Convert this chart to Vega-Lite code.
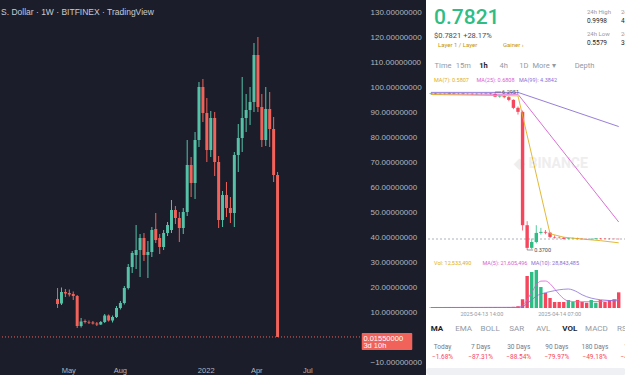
{
  "$schema": "https://vega.github.io/schema/vega-lite/v6.json",
  "padding": 0,
  "background": "#1b1e2a",
  "config": {"view": {"stroke": null}, "font": "Roboto", "axis": {"grid": false, "domain": false, "ticks": false, "labelOverlap": false}, "axisY": {"labelOverlap": false}},
  "datasets": {
    "weekly": [
      {"week":"2021-04-12","open":15.2,"high":19.6,"low":11.6,"close":13.2},
      {"week":"2021-04-19","open":13.4,"high":19.8,"low":12.8,"close":18.0},
      {"week":"2021-04-26","open":18.0,"high":19.2,"low":16.0,"close":17.4},
      {"week":"2021-05-03","open":17.6,"high":19.0,"low":16.2,"close":17.0},
      {"week":"2021-05-10","open":17.2,"high":18.2,"low":14.8,"close":16.4},
      {"week":"2021-05-17","open":16.4,"high":16.8,"low":3.6,"close":4.4},
      {"week":"2021-05-24","open":4.4,"high":7.6,"low":3.8,"close":6.2},
      {"week":"2021-05-31","open":6.4,"high":7.0,"low":5.4,"close":6.0},
      {"week":"2021-06-07","open":6.0,"high":6.6,"low":5.2,"close":5.8},
      {"week":"2021-06-14","open":5.8,"high":6.4,"low":5.0,"close":5.4},
      {"week":"2021-06-21","open":5.4,"high":6.0,"low":4.4,"close":5.0},
      {"week":"2021-06-28","open":5.0,"high":6.4,"low":4.8,"close":6.0},
      {"week":"2021-07-05","open":6.0,"high":9.2,"low":5.6,"close":8.6},
      {"week":"2021-07-12","open":8.6,"high":9.0,"low":6.2,"close":6.6},
      {"week":"2021-07-19","open":6.6,"high":8.6,"low":5.8,"close":8.0},
      {"week":"2021-07-26","open":8.0,"high":12.4,"low":7.6,"close":11.6},
      {"week":"2021-08-02","open":11.6,"high":14.4,"low":11.0,"close":13.6},
      {"week":"2021-08-09","open":13.6,"high":20.4,"low":13.0,"close":19.6},
      {"week":"2021-08-16","open":19.6,"high":29.2,"low":19.0,"close":28.0},
      {"week":"2021-08-23","open":28.0,"high":34.4,"low":25.6,"close":33.6},
      {"week":"2021-08-30","open":32.8,"high":44.8,"low":27.2,"close":34.8},
      {"week":"2021-09-06","open":34.8,"high":41.2,"low":24.0,"close":39.6},
      {"week":"2021-09-13","open":39.6,"high":41.6,"low":30.4,"close":32.8},
      {"week":"2021-09-20","open":32.8,"high":38.4,"low":23.6,"close":34.0},
      {"week":"2021-09-27","open":34.0,"high":44.0,"low":32.0,"close":42.8},
      {"week":"2021-10-04","open":43.2,"high":49.6,"low":37.6,"close":38.8},
      {"week":"2021-10-11","open":39.6,"high":41.2,"low":33.2,"close":36.0},
      {"week":"2021-10-18","open":36.0,"high":42.8,"low":34.8,"close":41.6},
      {"week":"2021-10-25","open":41.6,"high":46.0,"low":40.4,"close":44.8},
      {"week":"2021-11-01","open":42.8,"high":54.8,"low":41.6,"close":50.8},
      {"week":"2021-11-08","open":50.8,"high":52.4,"low":45.2,"close":47.6},
      {"week":"2021-11-15","open":47.6,"high":50.0,"low":38.0,"close":43.6},
      {"week":"2021-11-22","open":43.6,"high":51.6,"low":41.2,"close":50.0},
      {"week":"2021-11-29","open":50.0,"high":78.8,"low":48.4,"close":68.8},
      {"week":"2021-12-06","open":68.8,"high":72.0,"low":56.0,"close":61.6},
      {"week":"2021-12-13","open":61.6,"high":82.0,"low":55.2,"close":78.8},
      {"week":"2021-12-20","open":78.8,"high":102.0,"low":76.0,"close":100.0},
      {"week":"2021-12-27","open":100.0,"high":103.2,"low":86.0,"close":89.6},
      {"week":"2022-01-03","open":89.6,"high":95.6,"low":70.0,"close":74.8},
      {"week":"2022-01-10","open":74.8,"high":90.4,"low":72.0,"close":87.6},
      {"week":"2022-01-17","open":87.6,"high":90.0,"low":64.4,"close":70.0},
      {"week":"2022-01-24","open":70.0,"high":72.4,"low":43.6,"close":46.8},
      {"week":"2022-01-31","open":46.8,"high":58.4,"low":44.0,"close":56.8},
      {"week":"2022-02-07","open":56.8,"high":62.0,"low":48.0,"close":51.6},
      {"week":"2022-02-14","open":51.6,"high":56.0,"low":45.6,"close":49.6},
      {"week":"2022-02-21","open":49.6,"high":74.0,"low":44.0,"close":72.8},
      {"week":"2022-02-28","open":72.8,"high":85.2,"low":66.0,"close":79.6},
      {"week":"2022-03-07","open":79.6,"high":104.0,"low":74.0,"close":87.6},
      {"week":"2022-03-14","open":87.6,"high":97.2,"low":82.0,"close":90.8},
      {"week":"2022-03-21","open":90.8,"high":100.0,"low":84.8,"close":94.0},
      {"week":"2022-03-28","open":94.0,"high":117.6,"low":90.0,"close":112.8},
      {"week":"2022-04-04","open":112.8,"high":120.0,"low":90.0,"close":92.0},
      {"week":"2022-04-11","open":92.0,"high":97.2,"low":76.0,"close":78.8},
      {"week":"2022-04-18","open":78.8,"high":100.0,"low":76.4,"close":91.2},
      {"week":"2022-04-25","open":91.2,"high":98.0,"low":76.0,"close":83.2},
      {"week":"2022-05-02","open":83.2,"high":88.0,"low":62.0,"close":64.8},
      {"week":"2022-05-09","open":64.8,"high":66.0,"low":0.0155,"close":0.0155}
    ],
    "lastPrice": [{"price": 0.0155, "countdown": "3d 10h"}],
    "hourly": [
      {"hour":"2025-04-13T03:00:00Z","open":6.22,"high":6.27,"low":6.20,"close":6.24,"volume":420000},
      {"hour":"2025-04-13T04:00:00Z","open":6.24,"high":6.26,"low":6.19,"close":6.21,"volume":380000},
      {"hour":"2025-04-13T05:00:00Z","open":6.21,"high":6.25,"low":6.19,"close":6.23,"volume":350000},
      {"hour":"2025-04-13T06:00:00Z","open":6.23,"high":6.25,"low":6.20,"close":6.22,"volume":300000},
      {"hour":"2025-04-13T07:00:00Z","open":6.22,"high":6.28,"low":6.21,"close":6.25,"volume":450000},
      {"hour":"2025-04-13T08:00:00Z","open":6.25,"high":6.27,"low":6.21,"close":6.23,"volume":400000},
      {"hour":"2025-04-13T09:00:00Z","open":6.23,"high":6.26,"low":6.21,"close":6.24,"volume":330000},
      {"hour":"2025-04-13T10:00:00Z","open":6.24,"high":6.26,"low":6.20,"close":6.22,"volume":310000},
      {"hour":"2025-04-13T11:00:00Z","open":6.22,"high":6.25,"low":6.20,"close":6.23,"volume":290000},
      {"hour":"2025-04-13T12:00:00Z","open":6.23,"high":6.25,"low":6.19,"close":6.21,"volume":360000},
      {"hour":"2025-04-13T13:00:00Z","open":6.21,"high":6.26,"low":6.19,"close":6.23,"volume":420000},
      {"hour":"2025-04-13T14:00:00Z","open":6.23,"high":6.25,"low":6.20,"close":6.22,"volume":380000},
      {"hour":"2025-04-13T15:00:00Z","open":6.22,"high":6.27,"low":6.21,"close":6.24,"volume":400000},
      {"hour":"2025-04-13T16:00:00Z","open":6.24,"high":6.26,"low":6.20,"close":6.22,"volume":450000},
      {"hour":"2025-04-13T17:00:00Z","open":6.22,"high":6.2951,"low":6.10,"close":6.12,"volume":620000},
      {"hour":"2025-04-13T18:00:00Z","open":6.12,"high":6.18,"low":6.08,"close":6.14,"volume":500000},
      {"hour":"2025-04-13T19:00:00Z","open":6.14,"high":6.17,"low":6.06,"close":6.10,"volume":480000},
      {"hour":"2025-04-13T20:00:00Z","open":6.10,"high":6.14,"low":5.95,"close":6.00,"volume":650000},
      {"hour":"2025-04-13T21:00:00Z","open":6.00,"high":6.02,"low":5.65,"close":5.70,"volume":900000},
      {"hour":"2025-04-13T22:00:00Z","open":5.70,"high":5.75,"low":5.45,"close":5.55,"volume":1400000},
      {"hour":"2025-04-13T23:00:00Z","open":5.55,"high":5.60,"low":1.10,"close":1.30,"volume":7000000},
      {"hour":"2025-04-14T00:00:00Z","open":1.30,"high":1.45,"low":0.37,"close":0.45,"volume":25600000},
      {"hour":"2025-04-14T01:00:00Z","open":0.45,"high":0.80,"low":0.40,"close":0.67,"volume":28800000},
      {"hour":"2025-04-14T02:00:00Z","open":0.67,"high":1.30,"low":0.62,"close":1.01,"volume":30400000},
      {"hour":"2025-04-14T03:00:00Z","open":1.01,"high":1.20,"low":0.95,"close":1.05,"volume":16800000},
      {"hour":"2025-04-14T04:00:00Z","open":1.05,"high":1.12,"low":0.96,"close":1.02,"volume":12000000},
      {"hour":"2025-04-14T05:00:00Z","open":1.02,"high":1.04,"low":0.82,"close":0.86,"volume":8000000},
      {"hour":"2025-04-14T06:00:00Z","open":0.86,"high":0.92,"low":0.80,"close":0.84,"volume":4800000},
      {"hour":"2025-04-14T07:00:00Z","open":0.84,"high":0.88,"low":0.80,"close":0.83,"volume":4800000},
      {"hour":"2025-04-14T08:00:00Z","open":0.83,"high":0.86,"low":0.77,"close":0.79,"volume":4800000},
      {"hour":"2025-04-14T09:00:00Z","open":0.79,"high":0.83,"low":0.77,"close":0.81,"volume":6400000},
      {"hour":"2025-04-14T10:00:00Z","open":0.81,"high":0.84,"low":0.79,"close":0.82,"volume":4800000},
      {"hour":"2025-04-14T11:00:00Z","open":0.82,"high":0.83,"low":0.77,"close":0.79,"volume":6400000},
      {"hour":"2025-04-14T12:00:00Z","open":0.79,"high":0.81,"low":0.76,"close":0.78,"volume":4800000},
      {"hour":"2025-04-14T13:00:00Z","open":0.78,"high":0.80,"low":0.75,"close":0.77,"volume":4200000},
      {"hour":"2025-04-14T14:00:00Z","open":0.77,"high":0.80,"low":0.75,"close":0.79,"volume":6400000},
      {"hour":"2025-04-14T15:00:00Z","open":0.79,"high":0.82,"low":0.77,"close":0.81,"volume":4200000},
      {"hour":"2025-04-14T16:00:00Z","open":0.81,"high":0.82,"low":0.78,"close":0.80,"volume":6400000},
      {"hour":"2025-04-14T17:00:00Z","open":0.80,"high":0.82,"low":0.78,"close":0.795,"volume":4800000},
      {"hour":"2025-04-14T18:00:00Z","open":0.795,"high":0.81,"low":0.77,"close":0.79,"volume":6400000},
      {"hour":"2025-04-14T19:00:00Z","open":0.79,"high":0.80,"low":0.77,"close":0.785,"volume":7000000},
      {"hour":"2025-04-14T20:00:00Z","open":0.785,"high":0.80,"low":0.76,"close":0.7821,"volume":12533490}
    ],
    "priceMA": [
      {"hour":"2025-04-13T03:00:00Z","ma":"MA(99)","value":6.28},
      {"hour":"2025-04-13T22:00:00Z","ma":"MA(99)","value":6.28},
      {"hour":"2025-04-14T20:00:00Z","ma":"MA(99)","value":5.0},
      {"hour":"2025-04-13T03:00:00Z","ma":"MA(25)","value":6.22},
      {"hour":"2025-04-13T22:00:00Z","ma":"MA(25)","value":6.21},
      {"hour":"2025-04-14T20:00:00Z","ma":"MA(25)","value":1.42},
      {"hour":"2025-04-13T03:00:00Z","ma":"MA(7)","value":6.2},
      {"hour":"2025-04-13T22:00:00Z","ma":"MA(7)","value":6.15},
      {"hour":"2025-04-14T05:00:00Z","ma":"MA(7)","value":0.98},
      {"hour":"2025-04-14T08:00:00Z","ma":"MA(7)","value":0.85},
      {"hour":"2025-04-14T12:00:00Z","ma":"MA(7)","value":0.78},
      {"hour":"2025-04-14T16:00:00Z","ma":"MA(7)","value":0.72},
      {"hour":"2025-04-14T20:00:00Z","ma":"MA(7)","value":0.64}
    ],
    "volMA": [
      {"hour":"2025-04-13T03:00:00Z","series":"MA(5)","value":400000},
      {"hour":"2025-04-13T22:00:00Z","series":"MA(5)","value":500000},
      {"hour":"2025-04-13T23:00:00Z","series":"MA(5)","value":1700000},
      {"hour":"2025-04-14T00:00:00Z","series":"MA(5)","value":6700000},
      {"hour":"2025-04-14T01:00:00Z","series":"MA(5)","value":12500000},
      {"hour":"2025-04-14T02:00:00Z","series":"MA(5)","value":18500000},
      {"hour":"2025-04-14T03:00:00Z","series":"MA(5)","value":21500000},
      {"hour":"2025-04-14T04:00:00Z","series":"MA(5)","value":21600000},
      {"hour":"2025-04-14T05:00:00Z","series":"MA(5)","value":19500000},
      {"hour":"2025-04-14T06:00:00Z","series":"MA(5)","value":15200000},
      {"hour":"2025-04-14T07:00:00Z","series":"MA(5)","value":11000000},
      {"hour":"2025-04-14T08:00:00Z","series":"MA(5)","value":7400000},
      {"hour":"2025-04-14T09:00:00Z","series":"MA(5)","value":5600000},
      {"hour":"2025-04-14T11:00:00Z","series":"MA(5)","value":5000000},
      {"hour":"2025-04-14T16:00:00Z","series":"MA(5)","value":5300000},
      {"hour":"2025-04-14T20:00:00Z","series":"MA(5)","value":6800000},
      {"hour":"2025-04-13T03:00:00Z","series":"MA(10)","value":400000},
      {"hour":"2025-04-13T22:00:00Z","series":"MA(10)","value":450000},
      {"hour":"2025-04-13T23:00:00Z","series":"MA(10)","value":1100000},
      {"hour":"2025-04-14T00:00:00Z","series":"MA(10)","value":3600000},
      {"hour":"2025-04-14T01:00:00Z","series":"MA(10)","value":6500000},
      {"hour":"2025-04-14T02:00:00Z","series":"MA(10)","value":9500000},
      {"hour":"2025-04-14T03:00:00Z","series":"MA(10)","value":11200000},
      {"hour":"2025-04-14T04:00:00Z","series":"MA(10)","value":12300000},
      {"hour":"2025-04-14T05:00:00Z","series":"MA(10)","value":13100000},
      {"hour":"2025-04-14T06:00:00Z","series":"MA(10)","value":13900000},
      {"hour":"2025-04-14T07:00:00Z","series":"MA(10)","value":14600000},
      {"hour":"2025-04-14T08:00:00Z","series":"MA(10)","value":15000000},
      {"hour":"2025-04-14T09:00:00Z","series":"MA(10)","value":15200000},
      {"hour":"2025-04-14T10:00:00Z","series":"MA(10)","value":14400000},
      {"hour":"2025-04-14T11:00:00Z","series":"MA(10)","value":12700000},
      {"hour":"2025-04-14T12:00:00Z","series":"MA(10)","value":10600000},
      {"hour":"2025-04-14T14:00:00Z","series":"MA(10)","value":7900000},
      {"hour":"2025-04-14T16:00:00Z","series":"MA(10)","value":6600000},
      {"hour":"2025-04-14T20:00:00Z","series":"MA(10)","value":5700000}
    ],
    "ticker": [{"symbol": "OMUSDT", "last": 0.7821}],
    "extremes": [
      {"hour":"2025-04-13T17:00:00Z","price":6.2951},
      {"hour":"2025-04-14T00:00:00Z","price":0.37}
    ],
    "tags": [{"tag": "Layer 1 / Layer"}, {"tag": "Gainer ›"}],
    "stats": [{"stat": "24h High", "value": "0.9998"}, {"stat": "24h Low", "value": "0.5579"}],
    "volStats": [{"stat": "24h Vol(OM)", "value": "41.29M"}, {"stat": "24h Vol(USDT)", "value": "38.02M"}],
    "tabs": [{"tab":"Time"},{"tab":"15m"},{"tab":"1h"},{"tab":"4h"},{"tab":"1D"},{"tab":"More ▾"},{"tab":"Depth"}],
    "maLegend": [{"ma":"MA(7)","label":"MA(7): 0.5807"},{"ma":"MA(25)","label":"MA(25): 0.6808"},{"ma":"MA(99)","label":"MA(99): 4.3842"}],
    "volLegend": [{"series":"Vol","label":"Vol: 12,533,490"},{"series":"MA(5)","label":"MA(5): 21,605,496"},{"series":"MA(10)","label":"MA(10): 28,843,485"}],
    "indicators": [{"indicator":"MA"},{"indicator":"EMA"},{"indicator":"BOLL"},{"indicator":"SAR"},{"indicator":"AVL"},{"indicator":"VOL"},{"indicator":"MACD"},{"indicator":"RSI"}],
    "periods": [
      {"period":"Today","change":-0.0168},
      {"period":"7 Days","change":-0.8731},
      {"period":"30 Days","change":-0.8854},
      {"period":"90 Days","change":-0.7997},
      {"period":"180 Days","change":-0.4918},
      {"period":"1 Year","change":-0.4210}
    ]
  },
  "bounds": "flush",
  "spacing": 60,
  "hconcat": [
    {
      "width": 365,
      "height": 365,
      "view": {"fill": "#1b1e2a", "stroke": null},
      "title": {"text": "S. Dollar · 1W · BITFINEX · TradingView", "anchor": "start", "frame": "group", "orient": "top", "offset": -16, "fontSize": 8.5, "fontWeight": "normal", "color": "#c8cbd4", "font": "Liberation Sans"},
      "layer": [
        {
          "data": {"name": "weekly"},
          "mark": {"type": "rule", "strokeWidth": 1},
          "encoding": {
            "x": {"field": "week", "type": "temporal", "title": null,
                  "scale": {"type": "utc", "domain": [{"year":2021,"month":1,"date":10,"hours":4,"utc":true},{"year":2022,"month":10,"date":4,"hours":16,"utc":true}]},
                  "axis": {"values": [{"year":2021,"month":5,"date":1,"utc":true},{"year":2021,"month":8,"date":1,"utc":true},{"year":2022,"month":1,"date":1,"utc":true},{"year":2022,"month":4,"date":1,"utc":true},{"year":2022,"month":7,"date":1,"utc":true}],
                           "labelExpr": "utcFormat(datum.value, '%m') == '01' ? utcFormat(datum.value, '%Y') : utcFormat(datum.value, '%b')",
                           "labelFontSize": 7.5, "labelColor": "#b2b5be", "labelFont": "Liberation Sans", "labelPadding": 1, "labelFlush": false, "labelOverlap": false, "ticks": false, "domain": false, "grid": false}},
            "y": {"field": "low", "type": "quantitative", "title": null,
                  "scale": {"domain": [-11.2, 134.8], "nice": false, "zero": false},
                  "axis": {"orient": "right", "values": [-10,10,20,30,40,50,60,70,80,90,100,110,120,130],
                           "labelExpr": "format(datum.value, '.8f')", "labelAlign": "left", "labelBaseline": "middle", "labelPadding": 4,
                           "labelFontSize": 8, "labelColor": "#b2b5be", "labelFont": "Liberation Sans", "labelFlush": false, "labelOverlap": false,
                           "ticks": false, "domain": false, "grid": false}},
            "y2": {"field": "high"},
            "color": {"condition": {"test": "datum.close >= datum.open", "value": "#55c2a8"}, "value": "#f0625a"}
          }
        },
        {
          "data": {"name": "weekly"},
          "mark": {"type": "bar", "size": 3},
          "encoding": {
            "x": {"field": "week", "type": "temporal", "title": null, "scale": {"type": "utc", "domain": [{"year":2021,"month":1,"date":10,"hours":4,"utc":true},{"year":2022,"month":10,"date":4,"hours":16,"utc":true}]}},
            "y": {"field": "open", "type": "quantitative", "title": null, "scale": {"domain": [-11.2, 134.8], "nice": false, "zero": false}, "axis": {"orient": "right", "values": [-10,10,20,30,40,50,60,70,80,90,100,110,120,130], "labelOverlap": false}},
            "y2": {"field": "close"},
            "color": {"condition": {"test": "datum.close >= datum.open", "value": "#55c2a8"}, "value": "#f0625a"}
          }
        },
        {
          "data": {"name": "lastPrice"},
          "mark": {"type": "rule", "strokeDash": [1, 2], "color": "#f0625a", "strokeWidth": 1},
          "encoding": {"y": {"field": "price", "type": "quantitative", "title": null, "scale": {"domain": [-11.2, 134.8], "nice": false, "zero": false}, "axis": {"orient": "right", "values": [-10,10,20,30,40,50,60,70,80,90,100,110,120,130], "labelOverlap": false}}}
        },
        {
          "data": {"name": "lastPrice"},
          "mark": {"type": "rect", "color": "#f0625a", "yOffset": -4, "y2Offset": 13, "cornerRadius": 1},
          "encoding": {
            "x": {"datum": {"year":2022,"month":10,"date":6,"utc":true}, "type": "temporal"},
            "x2": {"datum": {"year":2023,"month":1,"date":4,"utc":true}},
            "y": {"field": "price", "type": "quantitative", "title": null, "scale": {"domain": [-11.2, 134.8], "nice": false, "zero": false}, "axis": {"orient": "right", "values": [-10,10,20,30,40,50,60,70,80,90,100,110,120,130], "labelOverlap": false}},
            "y2": {"field": "price"}
          }
        },
        {
          "data": {"name": "lastPrice"},
          "mark": {"type": "text", "align": "left", "baseline": "middle", "dy": 2, "fontSize": 7.5, "color": "#ffffff", "font": "Liberation Sans"},
          "encoding": {
            "x": {"datum": {"year":2022,"month":10,"date":9,"utc":true}, "type": "temporal"},
            "y": {"field": "price", "type": "quantitative", "title": null, "scale": {"domain": [-11.2, 134.8], "nice": false, "zero": false}, "axis": {"orient": "right", "values": [-10,10,20,30,40,50,60,70,80,90,100,110,120,130], "labelOverlap": false}},
            "text": {"field": "price", "type": "quantitative", "format": ".8f"}
          }
        },
        {
          "data": {"name": "lastPrice"},
          "mark": {"type": "text", "align": "left", "baseline": "middle", "dy": 9.5, "fontSize": 7.5, "color": "#ffffff", "font": "Liberation Sans"},
          "encoding": {
            "x": {"datum": {"year":2022,"month":10,"date":9,"utc":true}, "type": "temporal"},
            "y": {"field": "price", "type": "quantitative", "title": null, "scale": {"domain": [-11.2, 134.8], "nice": false, "zero": false}, "axis": {"orient": "right", "values": [-10,10,20,30,40,50,60,70,80,90,100,110,120,130], "labelOverlap": false}},
            "text": {"field": "countdown"}
          }
        }
      ]
    },
    {
      "bounds": "flush",
      "spacing": 0,
      "vconcat": [
        {
          "width": 200,
          "height": 58,
          "view": {"fill": "#ffffff", "stroke": null},
          "title": {"text": "0.7821", "subtitle": "$0.7821  +28.17%", "anchor": "start", "frame": "group", "orient": "top", "offset": -39, "dx": 8, "fontSize": 21, "fontWeight": 500, "color": "#2ebd85", "font": "Roboto", "subtitleFont": "Roboto", "subtitleFontSize": 7.5, "subtitleColor": "#474d57", "subtitlePadding": 4},
          "resolve": {"scale": {"x": "independent", "y": "independent"}},
          "layer": [
            {
              "data": {"name": "tags"},
              "mark": {"type": "text", "align": "left", "baseline": "middle", "dy": 16, "fontSize": 6, "color": "#c99400"},
              "encoding": {
                "x": {"field": "tag", "type": "nominal", "scale": {"type": "point", "domain": ["Layer 1 / Layer", "Gainer ›"], "range": [12, 77], "padding": 0}, "axis": null},
                "text": {"field": "tag"}
              }
            },
            {
              "data": {"name": "stats"},
              "mark": {"type": "text", "align": "left", "baseline": "middle", "dx": 61, "fontSize": 6, "color": "#929aa5"},
              "encoding": {
                "y": {"field": "stat", "type": "nominal", "scale": {"type": "point", "domain": ["24h High", "24h Low"], "range": [12, 34], "padding": 0}, "axis": null},
                "text": {"field": "stat"}
              }
            },
            {
              "data": {"name": "stats"},
              "mark": {"type": "text", "align": "left", "baseline": "middle", "dx": 61, "dy": 9, "fontSize": 6.5, "color": "#1e2329"},
              "encoding": {
                "y": {"field": "stat", "type": "nominal", "scale": {"type": "point", "domain": ["24h High", "24h Low"], "range": [12, 34], "padding": 0}, "axis": null},
                "text": {"field": "value"}
              }
            },
            {
              "data": {"name": "volStats"},
              "mark": {"type": "text", "align": "left", "baseline": "middle", "dx": 95, "fontSize": 6, "color": "#929aa5", "clip": true},
              "encoding": {
                "y": {"field": "stat", "type": "nominal", "scale": {"type": "point", "domain": ["24h Vol(OM)", "24h Vol(USDT)"], "range": [12, 34], "padding": 0}, "axis": null},
                "text": {"field": "stat"}
              }
            },
            {
              "data": {"name": "volStats"},
              "mark": {"type": "text", "align": "left", "baseline": "middle", "dx": 95, "dy": 9, "fontSize": 6.5, "color": "#1e2329", "clip": true},
              "encoding": {
                "y": {"field": "stat", "type": "nominal", "scale": {"type": "point", "domain": ["24h Vol(OM)", "24h Vol(USDT)"], "range": [12, 34], "padding": 0}, "axis": null},
                "text": {"field": "value"}
              }
            }
          ]
        },
        {
          "width": 200,
          "height": 16,
          "view": {"fill": "#ffffff", "stroke": null},
          "data": {"name": "tabs"},
          "layer": [
            {
              "transform": [{"filter": "datum.tab !== '1h'"}],
              "mark": {"type": "text", "baseline": "middle", "fontSize": 7.5, "color": "#929aa5"},
              "encoding": {
                "x": {"field": "tab", "type": "nominal", "scale": {"type": "point", "domain": ["Time","15m","1h","4h","1D","More ▾"," ","Depth"], "range": [17, 158.5], "padding": 0}, "axis": null},
                "text": {"field": "tab"}
              }
            },
            {
              "transform": [{"filter": "datum.tab === '1h'"}],
              "mark": {"type": "text", "baseline": "middle", "fontSize": 7.5, "fontWeight": "bold", "color": "#1e2329"},
              "encoding": {
                "x": {"field": "tab", "type": "nominal", "scale": {"type": "point", "domain": ["Time","15m","1h","4h","1D","More ▾"," ","Depth"], "range": [17, 158.5], "padding": 0}, "axis": null},
                "text": {"field": "tab"}
              }
            }
          ]
        },
        {
          "width": 200,
          "height": 12,
          "view": {"fill": "#ffffff", "stroke": null},
          "data": {"name": "maLegend"},
          "mark": {"type": "text", "align": "left", "baseline": "middle", "fontSize": 5.5},
          "encoding": {
            "x": {"field": "ma", "type": "nominal", "scale": {"type": "point", "domain": ["MA(7)","MA(25)","MA(99)"], "range": [8, 93], "padding": 0}, "axis": null},
            "text": {"field": "label"},
            "color": {"field": "ma", "type": "nominal", "scale": {"domain": ["MA(7)","MA(25)","MA(99)"], "range": ["#e0b020","#d85fd0","#8a6fd6"]}, "legend": null}
          }
        },
        {
          "width": 200,
          "height": 171,
          "view": {"fill": "#ffffff", "stroke": null},
          "layer": [
            {
              "data": {"values": [{"brand": "◆ BINANCE"}]},
              "mark": {"type": "text", "fontSize": 14, "fontWeight": "bold", "color": "#eeeeee", "dx": 25, "dy": -8},
              "encoding": {"text": {"field": "brand"}}
            },
            {
              "data": {"name": "ticker"},
              "mark": {"type": "rule", "strokeDash": [2, 2], "color": "#8a9099", "strokeWidth": 0.7},
              "encoding": {"y": {"field": "last", "type": "quantitative", "scale": {"domain": [0.1075, 6.52], "nice": false, "zero": false}, "axis": null}}
            },
            {
              "data": {"name": "hourly"},
              "mark": {"type": "rule", "strokeWidth": 0.8, "clip": true},
              "encoding": {
                "x": {"field": "hour", "type": "temporal", "scale": {"type": "utc", "domain": [{"year":2025,"month":4,"date":13,"hours":3,"utc":true},{"year":2025,"month":4,"date":14,"hours":20,"minutes":30,"utc":true}]}, "axis": null},
                "y": {"field": "low", "type": "quantitative", "scale": {"domain": [0.1075, 6.52], "nice": false, "zero": false}, "axis": null},
                "y2": {"field": "high"},
                "color": {"condition": {"test": "datum.close >= datum.open", "value": "#2ebd85"}, "value": "#f6465d"}
              }
            },
            {
              "data": {"name": "hourly"},
              "mark": {"type": "bar", "size": 3.4, "clip": true},
              "encoding": {
                "x": {"field": "hour", "type": "temporal", "scale": {"type": "utc", "domain": [{"year":2025,"month":4,"date":13,"hours":3,"utc":true},{"year":2025,"month":4,"date":14,"hours":20,"minutes":30,"utc":true}]}, "axis": null},
                "y": {"field": "open", "type": "quantitative", "scale": {"domain": [0.1075, 6.52], "nice": false, "zero": false}, "axis": null},
                "y2": {"field": "close"},
                "color": {"condition": {"test": "datum.close >= datum.open", "value": "#2ebd85"}, "value": "#f6465d"}
              }
            },
            {
              "data": {"name": "priceMA"},
              "mark": {"type": "line", "strokeWidth": 0.9, "clip": true},
              "encoding": {
                "x": {"field": "hour", "type": "temporal", "scale": {"type": "utc", "domain": [{"year":2025,"month":4,"date":13,"hours":3,"utc":true},{"year":2025,"month":4,"date":14,"hours":20,"minutes":30,"utc":true}]}, "axis": null},
                "y": {"field": "value", "type": "quantitative", "scale": {"domain": [0.1075, 6.52], "nice": false, "zero": false}, "axis": null},
                "color": {"field": "ma", "type": "nominal", "scale": {"domain": ["MA(7)","MA(25)","MA(99)"], "range": ["#f0b90b","#d85fd0","#7f6fd6"]}, "legend": null}
              }
            },
            {
              "data": {"name": "extremes"},
              "mark": {"type": "rule", "x2Offset": 6, "color": "#474d57", "strokeWidth": 0.6},
              "encoding": {
                "x": {"field": "hour", "type": "temporal", "scale": {"type": "utc", "domain": [{"year":2025,"month":4,"date":13,"hours":3,"utc":true},{"year":2025,"month":4,"date":14,"hours":20,"minutes":30,"utc":true}]}, "axis": null},
                "x2": {"field": "hour"},
                "y": {"field": "price", "type": "quantitative", "scale": {"domain": [0.1075, 6.52], "nice": false, "zero": false}, "axis": null}
              }
            },
            {
              "data": {"name": "extremes"},
              "mark": {"type": "text", "align": "left", "baseline": "middle", "dx": 7, "fontSize": 5.5, "color": "#474d57"},
              "encoding": {
                "x": {"field": "hour", "type": "temporal", "scale": {"type": "utc", "domain": [{"year":2025,"month":4,"date":13,"hours":3,"utc":true},{"year":2025,"month":4,"date":14,"hours":20,"minutes":30,"utc":true}]}, "axis": null},
                "y": {"field": "price", "type": "quantitative", "scale": {"domain": [0.1075, 6.52], "nice": false, "zero": false}, "axis": null},
                "text": {"field": "price", "type": "quantitative", "format": ".4f"}
              }
            }
          ]
        },
        {
          "width": 200,
          "height": 11,
          "view": {"fill": "#ffffff", "stroke": null},
          "data": {"name": "volLegend"},
          "mark": {"type": "text", "align": "left", "baseline": "middle", "fontSize": 5.5},
          "encoding": {
            "x": {"field": "series", "type": "nominal", "scale": {"type": "point", "domain": ["Vol","MA(5)","MA(10)"], "range": [8, 105], "padding": 0}, "axis": null},
            "text": {"field": "label"},
            "color": {"field": "series", "type": "nominal", "scale": {"domain": ["Vol","MA(5)","MA(10)"], "range": ["#707a8a","#e0b020","#9b6fd6"]}, "legend": null}
          }
        },
        {
          "width": 200,
          "height": 51,
          "view": {"fill": "#ffffff", "stroke": null},
          "layer": [
            {
              "data": {"name": "hourly"},
              "mark": {"type": "bar", "size": 3.4, "clip": true},
              "encoding": {
                "x": {"field": "hour", "type": "temporal", "title": null,
                      "scale": {"type": "utc", "domain": [{"year":2025,"month":4,"date":13,"hours":3,"utc":true},{"year":2025,"month":4,"date":14,"hours":20,"minutes":30,"utc":true}]},
                      "axis": {"orient": "bottom", "values": [{"year":2025,"month":4,"date":13,"hours":14,"utc":true},{"year":2025,"month":4,"date":14,"hours":7,"utc":true}],
                               "labelExpr": "utcFormat(datum.value, '%Y-%m-%d %H:%M')", "labelFontSize": 5.5, "labelColor": "#929aa5",
                               "labelPadding": -6, "labelBaseline": "middle", "ticks": false, "domain": false, "grid": false, "labelFlush": false, "labelOverlap": false, "zindex": 1}},
                "y": {"field": "volume", "type": "quantitative", "scale": {"domain": [-8800000, 32000000], "nice": false, "zero": false}, "axis": null},
                "y2": {"datum": 0},
                "color": {"condition": {"test": "datum.close >= datum.open", "value": "#2ebd85"}, "value": "#f6465d"}
              }
            },
            {
              "data": {"name": "volMA"},
              "mark": {"type": "line", "strokeWidth": 0.8, "interpolate": "monotone", "clip": true},
              "encoding": {
                "x": {"field": "hour", "type": "temporal", "title": null, "scale": {"type": "utc", "domain": [{"year":2025,"month":4,"date":13,"hours":3,"utc":true},{"year":2025,"month":4,"date":14,"hours":20,"minutes":30,"utc":true}]}},
                "y": {"field": "value", "type": "quantitative", "scale": {"domain": [-8800000, 32000000], "nice": false, "zero": false}, "axis": null},
                "color": {"field": "series", "type": "nominal", "scale": {"domain": ["MA(5)","MA(10)"], "range": ["#f0b90b","#a47fd8"]}, "legend": null}
              }
            }
          ]
        },
        {
          "width": 200,
          "height": 20,
          "view": {"fill": "#ffffff", "stroke": null},
          "data": {"name": "indicators"},
          "layer": [
            {
              "transform": [{"filter": "datum.indicator !== 'MA' && datum.indicator !== 'VOL'"}],
              "mark": {"type": "text", "baseline": "middle", "fontSize": 8, "color": "#929aa5", "clip": true},
              "encoding": {
                "x": {"field": "indicator", "type": "nominal", "scale": {"type": "point", "domain": ["MA","EMA","BOLL","SAR","AVL","VOL","MACD","RSI"], "range": [11, 197], "padding": 0}, "axis": null},
                "text": {"field": "indicator"}
              }
            },
            {
              "transform": [{"filter": "datum.indicator === 'MA' || datum.indicator === 'VOL'"}],
              "mark": {"type": "text", "baseline": "middle", "fontSize": 8, "fontWeight": "bold", "color": "#1e2329", "clip": true},
              "encoding": {
                "x": {"field": "indicator", "type": "nominal", "scale": {"type": "point", "domain": ["MA","EMA","BOLL","SAR","AVL","VOL","MACD","RSI"], "range": [11, 197], "padding": 0}, "axis": null},
                "text": {"field": "indicator"}
              }
            }
          ]
        },
        {
          "width": 200,
          "height": 29,
          "view": {"fill": "#ffffff", "stroke": null},
          "data": {"name": "periods"},
          "layer": [
            {
              "mark": {"type": "text", "baseline": "middle", "dy": -6.5, "fontSize": 6.5, "color": "#707a8a", "clip": true},
              "encoding": {
                "x": {"field": "period", "type": "nominal", "scale": {"type": "point", "domain": ["Today","7 Days","30 Days","90 Days","180 Days","1 Year"], "range": [16.5, 207], "padding": 0}, "axis": null},
                "text": {"field": "period"}
              }
            },
            {
              "mark": {"type": "text", "baseline": "middle", "dy": 3.5, "fontSize": 6.5, "color": "#f6465d", "clip": true},
              "encoding": {
                "x": {"field": "period", "type": "nominal", "scale": {"type": "point", "domain": ["Today","7 Days","30 Days","90 Days","180 Days","1 Year"], "range": [16.5, 207], "padding": 0}, "axis": null},
                "text": {"field": "change", "type": "quantitative", "format": ".2%"}
              }
            }
          ]
        },
        {
          "width": 200,
          "height": 7,
          "view": {"fill": "#ffffff", "stroke": null},
          "data": {"values": [{"element": "search bar"}]},
          "mark": {"type": "rect", "color": "#eef0f3", "cornerRadius": 3},
          "encoding": {}
        }
      ]
    }
  ]
}
